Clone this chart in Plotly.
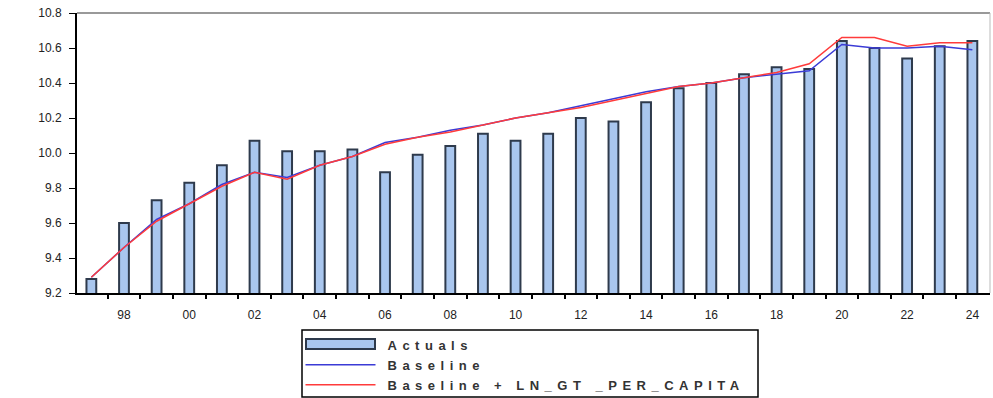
import plotly.graph_objects as go

years = list(range(1997, 2025))
actuals = [9.28, 9.60, 9.73, 9.83, 9.93, 10.07, 10.01, 10.01, 10.02, 9.89,
           9.99, 10.04, 10.11, 10.07, 10.11, 10.20, 10.18, 10.29, 10.37, 10.40,
           10.45, 10.49, 10.48, 10.64, 10.60, 10.54, 10.61, 10.64]
baseline = [9.29, 9.46, 9.62, 9.71, 9.82, 9.89, 9.86, 9.93, 9.98, 10.06,
            10.09, 10.13, 10.16, 10.20, 10.23, 10.27, 10.31, 10.35, 10.38, 10.40,
            10.43, 10.45, 10.47, 10.62, 10.60, 10.60, 10.61, 10.59]
baseline_gt = [9.29, 9.46, 9.61, 9.71, 9.81, 9.89, 9.85, 9.93, 9.98, 10.05,
               10.09, 10.12, 10.16, 10.20, 10.23, 10.26, 10.30, 10.34, 10.38, 10.40,
               10.43, 10.46, 10.51, 10.66, 10.66, 10.61, 10.63, 10.63]
tick_years = list(range(1998, 2025, 2))
tick_text = [f"{y % 100:02d}" for y in tick_years]
y_ticks = [9.2, 9.4, 9.6, 9.8, 10.0, 10.2, 10.4, 10.6, 10.8]

FONT = "Liberation Sans, Arial, sans-serif"
BAR_FILL = "#a9c6ee"
BAR_EDGE = "#2e3a4c"

L, R, T, B = 77, 3, 13, 105
W, H = 993, 398
PW, PH = W - L - R, H - T - B


def px(xp):
    return (xp - L) / PW


def py(yp):
    return (H - B - yp) / PH


fig = go.Figure()
fig.add_trace(go.Bar(
    x=years, y=actuals, name="Actuals", width=0.3, showlegend=False,
    marker=dict(color=BAR_FILL, line=dict(color=BAR_EDGE, width=2)),
))
# legend entry for the bars (swatch drawn as a shape below)
fig.add_trace(go.Scatter(
    x=[None], y=[None], name="Actuals", mode="lines",
    line=dict(color="rgba(0,0,0,0)", width=1), hoverinfo="skip",
))
fig.add_trace(go.Scatter(
    x=years, y=baseline, name="Baseline", mode="lines",
    line=dict(color="#3b3bd6", width=1.5),
))
fig.add_trace(go.Scatter(
    x=years, y=baseline_gt, name="Baseline + LN_GT _PER_CAPITA", mode="lines",
    line=dict(color="#ff3b3b", width=1.5),
))

fig.update_layout(
    width=W, height=H,
    margin=dict(l=L, r=R, t=T, b=B, autoexpand=False),
    paper_bgcolor="white", plot_bgcolor="white",
    font=dict(family=FONT, size=12, color="#222"),
    showlegend=True,
    legend=dict(
        x=px(300.5), y=py(330), xanchor="left", yanchor="top",
        bgcolor="rgba(0,0,0,0)", borderwidth=0,
        itemwidth=70, tracegroupgap=0,
        font=dict(family=FONT, size=13, color="#333", weight="bold"),
    ),
    xaxis=dict(
        range=[1996.56, 2024.54], showgrid=False, zeroline=False,
        tickmode="array", tickvals=tick_years, ticktext=tick_text,
        ticks="", ticklabelstandoff=10,
        showline=True, linecolor="black", linewidth=2,
        minor=dict(tickmode="array", tickvals=[y + 0.5 for y in years[:-1]],
                   ticks="outside", ticklen=4, tickcolor="black", tickwidth=2),
        tickfont=dict(family=FONT, size=12, color="#222"),
    ),
    yaxis=dict(
        range=[9.2, 10.8], showgrid=False, zeroline=False,
        tickmode="array", tickvals=y_ticks, tickformat=".1f",
        ticks="outside", ticklen=6, tickcolor="black", tickwidth=1,
        ticklabelstandoff=5,
        showline=True, linecolor="black", linewidth=2,
        tickfont=dict(family=FONT, size=12, color="#222"),
    ),
    shapes=[
        dict(type="line", xref="paper", yref="paper", x0=0, x1=1, y0=1, y1=1,
             line=dict(color="#999", width=2)),
        dict(type="line", xref="paper", yref="paper", x0=1, x1=1, y0=0, y1=1,
             line=dict(color="#bbb", width=1)),
        dict(type="rect", xref="paper", yref="paper",
             x0=px(302), x1=px(758), y0=py(397), y1=py(330),
             line=dict(color="black", width=1.5)),
        dict(type="rect", xref="paper", yref="paper",
             x0=px(306), x1=px(375), y0=py(349), y1=py(339),
             fillcolor=BAR_FILL, line=dict(color=BAR_EDGE, width=2)),
    ],
)

post = ("document.body.style.margin='0';"
        "var s=document.createElement('style');"
        "s.textContent='.legendtext{letter-spacing:5.5px;transform:translateX(7px)}"
        ".legend .scrollbox{clip-path:none !important}';"
        "document.head.appendChild(s);")
fig.write_html("out.html", post_script=post,
               config={"displayModeBar": False})
